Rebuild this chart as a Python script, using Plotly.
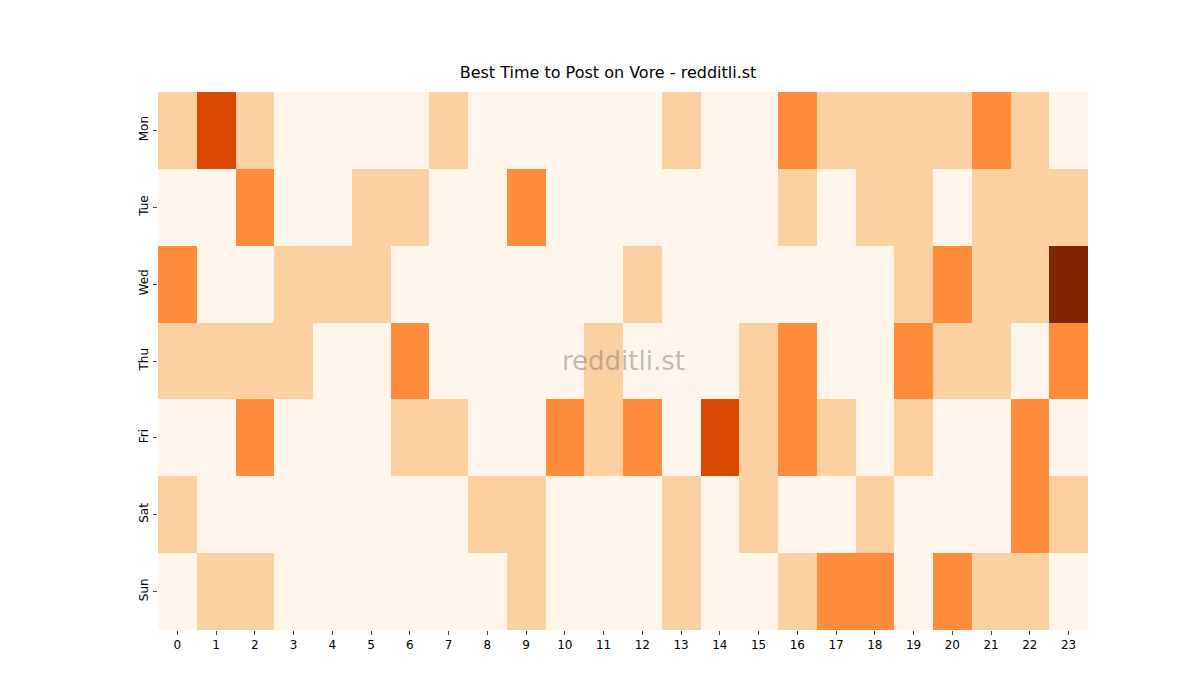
import plotly.graph_objects as go

days = ["Mon", "Tue", "Wed", "Thu", "Fri", "Sat", "Sun"]
hours = list(range(24))

mon = [1, 3, 1, 0, 0, 0, 0, 1, 0, 0, 0, 0, 0, 1, 0, 0, 2, 1, 1, 1, 1, 2, 1, 0]
tue = [0, 0, 2, 0, 0, 1, 1, 0, 0, 2, 0, 0, 0, 0, 0, 0, 1, 0, 1, 1, 0, 1, 1, 1]
wed = [2, 0, 0, 1, 1, 1, 0, 0, 0, 0, 0, 0, 1, 0, 0, 0, 0, 0, 0, 1, 2, 1, 1, 4]
thu = [1, 1, 1, 1, 0, 0, 2, 0, 0, 0, 0, 1, 0, 0, 0, 1, 2, 0, 0, 2, 1, 1, 0, 2]
fri = [0, 0, 2, 0, 0, 0, 1, 1, 0, 0, 2, 1, 2, 0, 3, 1, 2, 1, 0, 1, 0, 0, 2, 0]
sat = [1, 0, 0, 0, 0, 0, 0, 0, 1, 1, 0, 0, 0, 1, 0, 1, 0, 0, 1, 0, 0, 0, 2, 1]
sun = [0, 1, 1, 0, 0, 0, 0, 0, 0, 1, 0, 0, 0, 1, 0, 0, 1, 2, 2, 0, 2, 1, 1, 0]

z = [mon, tue, wed, thu, fri, sat, sun]

oranges = [[0.0, "#fff5eb"], [0.25, "#fdd0a2"], [0.5, "#fd8d3c"],
           [0.75, "#d94801"], [1.0, "#7f2704"]]

fig = go.Figure(go.Heatmap(
    z=z, x=hours, y=days,
    colorscale=oranges, zmin=0, zmax=4,
    showscale=False, xgap=0, ygap=0,
))

fig.update_layout(
    width=1200, height=700,
    margin=dict(l=150, r=120, t=84, b=78),
    plot_bgcolor="white", paper_bgcolor="white",
    font=dict(family="DejaVu Sans", size=12, color="black"),
    title=dict(text="Best Time to Post on Vore - redditli.st", x=0.5, y=0.9,
               xanchor="center", yanchor="bottom", font=dict(size=16)),
    annotations=[dict(text="redditli.st", x=0.5, y=0.5, xref="paper", yref="paper",
                      showarrow=False, font=dict(size=26, color="rgba(128,128,128,0.5)"))],
)
fig.update_xaxes(tickmode="array", tickvals=hours, ticks="outside", ticklen=4,
                 showgrid=False, zeroline=False)
fig.update_yaxes(autorange="reversed", tickangle=-90, ticks="outside", ticklen=4,
                 showgrid=False, zeroline=False)

fig.write_html("out.html")
